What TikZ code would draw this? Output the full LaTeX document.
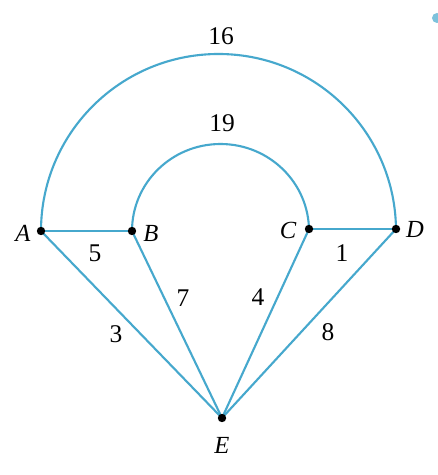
\documentclass[tikz,border=0pt]{standalone}
\usepackage{fontspec}
\setmainfont{Liberation Serif}
\begin{document}
\begin{tikzpicture}[x=0.02cm,y=-0.02cm,
  edge/.style={draw=lineblue,line width=1.2pt},
  vtx/.style={circle,inner sep=0pt,minimum size=0pt},
  vlab/.style={font=\fontsize{14}{16}\selectfont\itshape},
  wlab/.style={font=\fontsize{14.5}{16}\selectfont}]
\definecolor{lineblue}{RGB}{70,168,205}
\useasboundingbox (0,0) rectangle (437,475);
\fill[white] (0,0) rectangle (437,475);
\fill[lineblue!70] (437,18) circle (5);
% vertices
\node[vtx] (A) at (41,231) {};
\node[vtx] (B) at (132,231) {};
\node[vtx] (C) at (309,229) {};
\node[vtx] (D) at (396,229) {};
\node[vtx] (E) at (222,418) {};
% arcs
\draw[edge] (A.center) arc[start angle=180,end angle=0,x radius=177.5,y radius=-177];
\draw[edge] (B.center) arc[start angle=180,end angle=0,x radius=88.5,y radius=-87];
% straight edges
\draw[edge] (A.center) -- (B.center);
\draw[edge] (C.center) -- (D.center);
\draw[edge] (A.center) -- (E.center);
\draw[edge] (B.center) -- (E.center);
\draw[edge] (C.center) -- (E.center);
\draw[edge] (D.center) -- (E.center);
% dots on top
\foreach \v in {A,B,C,D,E} \fill (\v.center) circle (4.2);
% vertex labels
\node[vlab] (lA) at (23,233) {A};
\node[vlab] (lB) at (151,233) {B};
\node[vlab] (lC) at (288,230) {C};
\node[vlab] (lD) at (415,229) {D};
\node[vlab] (lE) at (222,445) {E};
% weights
\node[wlab] (w16) at (221,36) {16};
\node[wlab] (w19) at (222,123) {19};
\node[wlab] (w5) at (95,253) {5};
\node[wlab] (w1) at (342,253) {1};
\node[wlab] (w7) at (183,298) {7};
\node[wlab] (w4) at (258,297) {4};
\node[wlab] (w3) at (116,334) {3};
\node[wlab] (w8) at (328,332) {8};
\end{tikzpicture}
\end{document}
